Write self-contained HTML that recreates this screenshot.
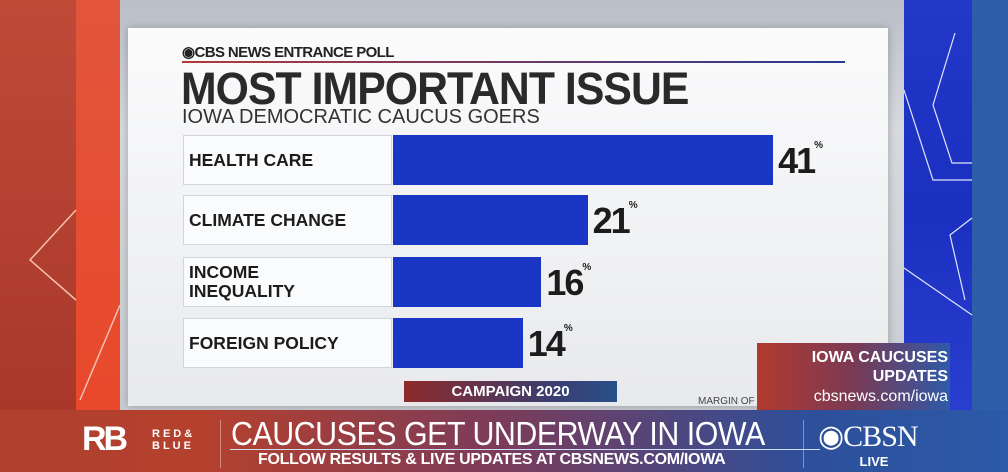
<!DOCTYPE html>
<html><head><meta charset="utf-8"><style>
*{margin:0;padding:0;box-sizing:border-box}
body{width:1008px;height:472px;overflow:hidden;position:relative;font-family:"Liberation Sans",sans-serif;background:#c9ccd2}
.abs{position:absolute}
</style></head><body>
<div class="abs" style="left:0;top:0;width:76px;height:420px;background:linear-gradient(180deg,#c04a38,#a8372a)"></div>
<div class="abs" style="left:76px;top:0;width:44px;height:420px;background:linear-gradient(180deg,#e2553c,#e9482a)"></div>
<div class="abs" style="left:120px;top:0;width:784px;height:420px;background:linear-gradient(180deg,#b9bec7,#d6d9de 30%,#c8ccd2)"></div>
<div class="abs" style="left:904px;top:0;width:68px;height:420px;background:linear-gradient(180deg,#2238c8,#1b2fc0 50%,#2a3fd0)"></div>
<div class="abs" style="left:972px;top:0;width:36px;height:420px;background:#2e5ea8"></div>
<svg class="abs" style="left:0;top:0" width="1008" height="420">
<polyline points="76,210 30,260 76,300" fill="none" stroke="#f4c0b0" stroke-width="1.5"/>
<polyline points="120,305 80,400" fill="none" stroke="#f4c0b0" stroke-width="1.5"/>
<polyline points="955,33 933,105 952,163 972,163" fill="none" stroke="#dfe6ff" stroke-width="1.2"/>
<polyline points="904,90 933,180 972,180" fill="none" stroke="#dfe6ff" stroke-width="1.2"/>
<polyline points="972,218 950,235 965,300" fill="none" stroke="#dfe6ff" stroke-width="1.2"/>
<polyline points="904,268 972,315" fill="none" stroke="#dfe6ff" stroke-width="1.2"/>
</svg>
<div class="abs" style="left:128px;top:28px;width:760px;height:378px;background:linear-gradient(180deg,#fbfbfc,#f0f1f3 60%,#e8e9ec);box-shadow:0 0 8px rgba(0,0,0,.25)"></div>
<div class="abs" style="left:182px;top:43px;font-size:15px;font-weight:bold;color:#222;letter-spacing:-0.6px">◉CBS NEWS ENTRANCE POLL</div>
<div class="abs" style="left:182px;top:61px;width:663px;height:2px;background:linear-gradient(90deg,#b23a3a,#2a3a90)"></div>
<div class="abs" style="left:181px;top:63px;font-size:45px;font-weight:900;color:#2a2a2a;letter-spacing:-1px;transform:scaleX(0.95);transform-origin:left">MOST IMPORTANT ISSUE</div>
<div class="abs" style="left:182px;top:106px;font-size:20px;color:#333">IOWA DEMOCRATIC CAUCUS GOERS</div>
<div id="chart"></div>
<div class="abs" style="left:404px;top:381px;width:213px;height:21px;background:linear-gradient(90deg,#8e2a2a,#3a3e70 70%,#28508a);color:#fff;font-size:15px;font-weight:bold;text-align:center;line-height:21px">CAMPAIGN 2020</div>
<div class="abs" style="left:698px;top:396px;font-size:10px;color:#444">MARGIN OF</div>
<div class="abs" style="left:757px;top:343px;width:193px;height:67px;background:linear-gradient(90deg,#b23a2e,#7a3a55 50%,#2e5aa8);color:#fff;text-align:right;padding-right:2px">
<div style="font-size:16px;font-weight:bold;line-height:19px;margin-top:5px">IOWA CAUCUSES<br>UPDATES</div>
<div style="font-size:16px;line-height:22px">cbsnews.com/iowa</div></div>
<div class="abs" style="left:0;top:410px;width:1008px;height:62px;background:linear-gradient(90deg,#b0402e,#b5402e 20%,#7a3c5a 50%,#2e4f9a 80%,#2b5aa8)"></div>
<div class="abs" style="left:82px;top:420px;font-size:34px;font-weight:900;color:#fff;letter-spacing:-3px">RB</div>
<div class="abs" style="left:152px;top:428px;font-size:11px;font-weight:bold;color:#fff;letter-spacing:3px;line-height:12px">RED&amp;<br>BLUE</div>
<div class="abs" style="left:220px;top:420px;width:1px;height:48px;background:rgba(255,255,255,.4)"></div>
<div class="abs" style="left:231px;top:415px;font-size:33px;color:#fff;letter-spacing:-0.5px;transform:scaleX(0.92);transform-origin:left">CAUCUSES GET UNDERWAY IN IOWA</div>
<div class="abs" style="left:230px;top:449px;width:590px;height:1px;background:#cfe0ff"></div>
<div class="abs" style="left:258px;top:451px;font-size:16px;font-weight:bold;color:#fff;letter-spacing:-0.3px">FOLLOW RESULTS &amp; LIVE UPDATES AT CBSNEWS.COM/IOWA</div>
<div class="abs" style="left:803px;top:420px;width:1px;height:48px;background:rgba(255,255,255,.4)"></div>
<div class="abs" style="left:818px;top:419px;font-size:30px;font-family:'Liberation Serif',serif;color:#fff;letter-spacing:-1px">◉CBSN</div>
<div class="abs" style="left:848px;top:454px;width:52px;font-size:13px;font-weight:bold;color:#fff;text-align:center">LIVE</div>
<script>
const categories=["HEALTH CARE","CLIMATE CHANGE","INCOME\nINEQUALITY","FOREIGN POLICY"];
const values=[41,21,16,14];
const rowTops=[135,195,257,318];
const chart=document.getElementById('chart');
const x0=393, scale=9.27, h=50;
const xPos=v=>x0+v*scale;
categories.forEach((c,i)=>{
  const y=rowTops[i];
  const lab=document.createElement('div');
  lab.className='abs';
  
  
  lab.style.cssText=`left:183px;top:${y}px;width:209px;height:${h}px;border:1px solid #cfd6e0;background:#fafbfc;display:flex;align-items:center;padding-left:5px;font-size:17.5px;font-weight:bold;color:#1c1c1c;line-height:19px;white-space:pre`;
  lab.textContent=c;
  chart.appendChild(lab);
  const bar=document.createElement('div');
  bar.className='abs';
  
  
  bar.style.cssText=`left:${x0}px;top:${y}px;width:${xPos(values[i])-x0}px;height:${h}px;background:#1a36c4`;
  chart.appendChild(bar);
  const val=document.createElement('div');
  val.className='abs';
  
  
  val.style.cssText=`left:${xPos(values[i])+5}px;top:${y+5}px;font-size:36px;font-weight:900;color:#1c1c1c;letter-spacing:-2px`;
  val.innerHTML=values[i]+'<span style="font-size:10px;vertical-align:top;letter-spacing:0">%</span>';
  chart.appendChild(val);
});
</script>
</body></html>
